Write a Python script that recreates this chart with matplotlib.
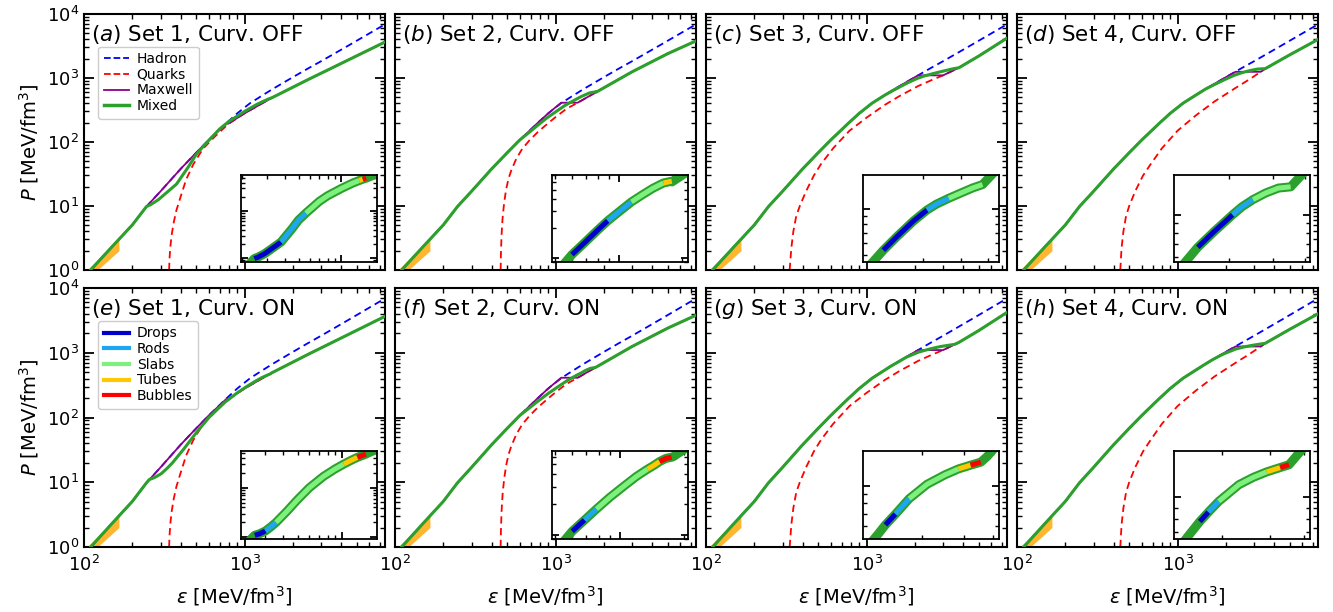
import numpy as np
import matplotlib.pyplot as plt
from matplotlib.lines import Line2D

plt.rcParams['font.family'] = ['DejaVu Sans']
plt.rcParams['mathtext.fontset'] = 'dejavusans'

# hadronic EoS (same in every panel)
had_eps = [100, 110, 150, 200, 245, 300, 400, 500, 600, 770, 900, 1084, 1300, 1500, 2000,
           2500, 3000, 4500, 7500]
had_p = [0.77, 1.0, 2.33, 5.06, 9.8, 17, 38, 68, 108, 196, 280, 405, 540, 675, 1030,
         1420, 1830, 3280, 6900]

# quark EoS, sets 1-4
q1_eps = [339, 341, 345, 352, 362, 376, 400, 433, 480, 550, 650, 790, 1000, 1480, 2500, 4500, 7500]
q1_p = [1.0, 1.5, 2.3, 3.6, 5.5, 8.5, 14, 26, 45, 78, 120, 190, 280, 490, 950, 1950, 3650]
q2_eps = [455, 457, 461, 468, 478, 492, 510, 531, 570, 620, 690, 780, 874, 1000, 1170, 1374,
          1790, 3000, 5000, 7500]
q2_p = [1.0, 1.8, 3.5, 6.5, 11, 18, 27, 36.5, 55, 78, 107, 145, 185, 245, 330, 411,
        600, 1250, 2400, 3800]
q3_eps = [332, 340, 350, 365, 384, 420, 470, 520, 620, 783, 1000, 1300, 1600, 2100, 2600,
          3000, 3770, 5000, 7500]
q3_p = [1, 2.2, 4, 7, 10, 17, 30, 45, 80, 150, 240, 380, 520, 750, 950, 1100, 1450,
        2200, 4200]
q4_eps = [440, 448, 460, 478, 500, 545, 610, 680, 800, 1000, 1300, 1700, 2300, 2800, 3300,
          3520, 5000, 7500]
q4_p = [1, 2.2, 4, 7, 10, 17, 30, 45, 80, 150, 260, 430, 700, 950, 1250, 1400, 2300, 4000]

# Maxwell construction: hadron end, quark start, transition pressure
mx_eps_h = [770, 1084, 2100, 2300]
mx_eps_q = [790, 1374, 3000, 3300]
mx_p = [193, 411, 1100, 1250]

# mixed-phase branch of each panel and the pasta phase of every segment
# D drops, R rods, S slabs, T tubes, B bubbles
mix_a_eps = [245, 260, 290, 330, 377, 450, 500, 563, 700, 800, 1000, 1200, 1330, 1410, 1490]
mix_a_p = [9.8, 10.5, 12.5, 16.5, 22, 42, 64, 90, 160, 210, 300, 390, 440, 470, 495]
mix_a_ph = 'DDDDRRRSSSSSTB'
mix_b_eps = [600, 700, 800, 888, 1000, 1150, 1300, 1450, 1630, 1786]
mix_b_p = [108, 148, 195, 240, 295, 375, 445, 515, 585, 610]
mix_b_ph = 'DDDRRSSST'
mix_c_eps = [1300, 1500, 1800, 2080, 2300, 2625, 3000, 3400, 3770]
mix_c_p = [540, 660, 840, 990, 1080, 1180, 1280, 1380, 1450]
mix_c_ph = 'DDDRRSSS'
mix_d_eps = [1500, 1750, 2066, 2250, 2490, 2800, 3150, 3520]
mix_d_p = [675, 820, 1000, 1100, 1200, 1300, 1380, 1400]
mix_d_ph = 'DDRRSSS'
mix_e_eps = [255, 275, 302, 330, 356, 420, 500, 600, 750, 900, 1030, 1150, 1274, 1370, 1455]
mix_e_p = [11, 11.8, 13.5, 16.5, 20, 33, 58, 100, 170, 240, 300, 355, 410, 445, 475]
mix_e_ph = 'DDRRSSSSSSTTBB'
mix_f_eps = [600, 686, 780, 900, 1050, 1200, 1355, 1450, 1541, 1650, 1754]
mix_f_p = [108, 140, 180, 235, 305, 380, 450, 490, 535, 575, 590]
mix_f_ph = 'DRSSSSTTBB'
mix_g_eps = [1400, 1545, 1765, 2100, 2500, 2855, 3210, 3545]
mix_g_p = [610, 700, 850, 1020, 1150, 1240, 1300, 1350]
mix_g_ph = 'DRSSSTB'
mix_h_eps = [1650, 1776, 1938, 2300, 2600, 2910, 3266, 3520]
mix_h_p = [780, 860, 960, 1140, 1230, 1300, 1360, 1400]
mix_h_ph = 'DRSSSTB'

# low-density band
band_eps = [100, 165]
band_lo = [0.65, 2.0]
band_hi = [0.9, 3.1]

panel_tags = ['a', 'b', 'c', 'd', 'e', 'f', 'g', 'h']
set_names = ['Set 1', 'Set 2', 'Set 3', 'Set 4']

q_eps = [q1_eps, q2_eps, q3_eps, q4_eps]
q_p = [q1_p, q2_p, q3_p, q4_p]
mixes = [(mix_a_eps, mix_a_p, mix_a_ph), (mix_b_eps, mix_b_p, mix_b_ph),
         (mix_c_eps, mix_c_p, mix_c_ph), (mix_d_eps, mix_d_p, mix_d_ph),
         (mix_e_eps, mix_e_p, mix_e_ph), (mix_f_eps, mix_f_p, mix_f_ph),
         (mix_g_eps, mix_g_p, mix_g_ph), (mix_h_eps, mix_h_p, mix_h_ph)]

c_had = '#0000ff'
c_qrk = '#ff0000'
c_mx = '#8b008b'
c_mix = '#2ca02c'
phase_col = {'D': '#0000cc', 'R': '#1ea7f0', 'S': '#7df07d', 'T': '#ffc800', 'B': '#ff0000'}
phase_lab = {'D': 'Drops', 'R': 'Rods', 'S': 'Slabs', 'T': 'Tubes', 'B': 'Bubbles'}


def maxwell(i):
    e = [x for x in had_eps if x < mx_eps_h[i]] + [mx_eps_h[i], mx_eps_q[i]]
    p = [y for x, y in zip(had_eps, had_p) if x < mx_eps_h[i]] + [mx_p[i], mx_p[i]]
    e += [x for x in q_eps[i] if x > mx_eps_q[i]]
    p += [y for x, y in zip(q_eps[i], q_p[i]) if x > mx_eps_q[i]]
    return e, p


def mixed(i, me, mp):
    e = [x for x in had_eps if x < me[0]] + list(me)
    p = [y for x, y in zip(had_eps, had_p) if x < me[0]] + list(mp)
    e += [x for x in q_eps[i] if x > me[-1]]
    p += [y for x, y in zip(q_eps[i], q_p[i]) if x > me[-1]]
    return e, p


def style(ax, lw=1.5, major=7, minor=3.5):
    ax.set_xscale('log')
    ax.set_yscale('log')
    for s in ax.spines.values():
        s.set_linewidth(lw)
    ax.tick_params(which='both', direction='in', top=True, right=True)
    ax.tick_params(which='major', length=major, width=1.3)
    ax.tick_params(which='minor', length=minor, width=1.0)


fig = plt.figure(figsize=(13.33, 6.12), dpi=100)
W, H = 1333, 612
lefts = [84, 395, 706, 1017]
tops = [14, 288]
heights = [256, 259]

for k in range(8):
    row, col = divmod(k, 4)
    ax = fig.add_axes([lefts[col] / W, 1 - (tops[row] + heights[row]) / H, 301 / W, heights[row] / H])
    style(ax)
    ax.fill_between(band_eps, band_lo, band_hi, color='#ffb52e', lw=0, zorder=1)
    ax.plot(had_eps, had_p, '--', color=c_had, lw=1.3, dashes=(4, 2.5), zorder=2)
    ax.plot(q_eps[col], q_p[col], '--', color=c_qrk, lw=1.3, dashes=(4, 2.5), zorder=2)
    me, mp = maxwell(col)
    ax.plot(me, mp, color=c_mx, lw=1.3, zorder=3)
    xe, xp, ph = mixes[k]
    fe, fp = mixed(col, xe, xp)
    ax.plot(fe, fp, color=c_mix, lw=2.2, zorder=4)
    ax.set_xlim(100, 7500)
    ax.set_ylim(1, 1e4)
    ax.tick_params(labelsize=13)
    ax.tick_params(axis='x', pad=6)
    if col > 0:
        ax.set_yticklabels([])
    else:
        ax.set_ylabel(r'$P$ [MeV/fm$^3$]', fontsize=14)
    if row == 0:
        ax.set_xticklabels([])
    else:
        ax.set_xlabel(r'$\varepsilon$ [MeV/fm$^3$]', fontsize=14, labelpad=6)
    curv = 'OFF' if row == 0 else 'ON'
    ax.text(0.022, 0.965, r'$(%s)$ %s, Curv. %s' % (panel_tags[k], set_names[col], curv),
            transform=ax.transAxes, fontsize=15.5, va='top', ha='left')

    leg_kw = dict(loc='upper left', bbox_to_anchor=(0.025, 0.9), fontsize=10,
                  labelspacing=0.12, handlelength=1.8, handletextpad=0.55,
                  borderpad=0.4, framealpha=1, edgecolor='#cccccc')
    if k == 0:
        hs = [Line2D([], [], color=c_had, ls='--', lw=1.3),
              Line2D([], [], color=c_qrk, ls='--', lw=1.3),
              Line2D([], [], color=c_mx, lw=1.3),
              Line2D([], [], color=c_mix, lw=2.5)]
        ax.legend(hs, ['Hadron', 'Quarks', 'Maxwell', 'Mixed'], **leg_kw)
    if k == 4:
        hs = [Line2D([], [], color=phase_col[c], lw=3) for c in 'DRSTB']
        ax.legend(hs, [phase_lab[c] for c in 'DRSTB'], **leg_kw)

    # inset with the pasta phases along the mixed branch
    ins = ax.inset_axes([0.52, 0.03, 0.455, 0.34])
    style(ins, lw=1.3, major=5, minor=3)
    ins.plot(fe, fp, color=c_mix, lw=6.5, solid_capstyle='butt')
    start = 0
    for j in range(1, len(ph) + 1):
        if j == len(ph) or ph[j] != ph[start]:
            ins.plot(xe[start:j + 1], xp[start:j + 1], color=phase_col[ph[start]],
                     lw=3.6, solid_capstyle='butt')
            start = j
    ins.set_xlim(xe[0] / 1.25, xe[-1] * 1.2)
    ins.set_ylim(xp[0] / 1.2, xp[-1] * 1.15)
    ins.set_xticklabels([], minor=True)
    ins.set_xticklabels([])
    ins.set_yticklabels([], minor=True)
    ins.set_yticklabels([])

fig.savefig('out.png', dpi=100)
